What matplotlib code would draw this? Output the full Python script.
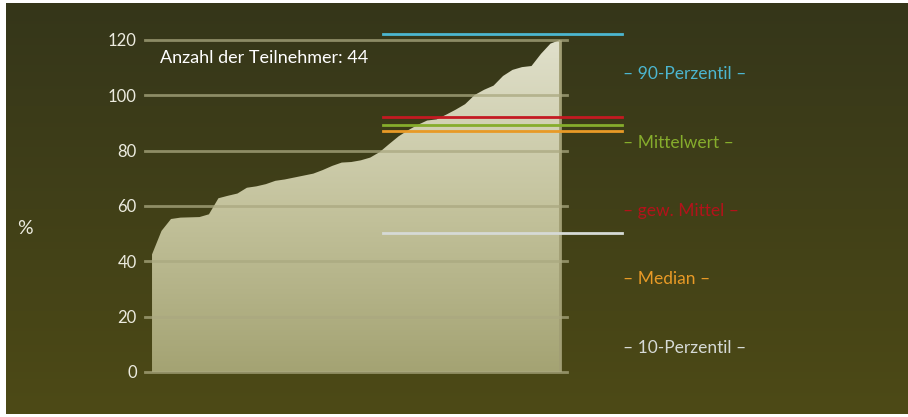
import numpy as np
import matplotlib
matplotlib.use("Agg")
import matplotlib.pyplot as plt
from matplotlib.colors import LinearSegmentedColormap

plt.rcParams['font.family'] = ['Lato', 'DejaVu Sans']

# sorted scores of the participants (percent)
scores = [42.5, 51, 55.3, 55.8, 55.9, 56, 57, 62.8, 63.7, 64.5, 66.6, 67.1, 67.9, 69.1,
          69.6, 70.3, 71, 71.7, 73, 74.5, 75.7, 75.9, 76.5, 77.5, 79.5, 82.4, 85.2, 87.4,
          89.3, 90.9, 91.3, 93, 94.8, 96.8, 100.1, 102, 103.5, 107, 109.2, 110.2, 110.6,
          115, 118.7, 120]
n_participants = 44

# statistics lines
stat_names = ['90-Perzentil', 'Mittelwert', 'gew. Mittel', 'Median', '10-Perzentil']
stat_values = [122.2, 89.3, 92.2, 87.1, 50.2]
stat_colors = ['#4cb6d0', '#86ad2c', '#c41a22', '#e89a26', '#d6dad6']
label_colors = ['#4cb6d0', '#86ad2c', '#b3121a', '#e89a26', '#d6dad6']

yticks = [0, 20, 40, 60, 80, 100, 120]

fig = plt.figure(figsize=(9.08, 4.17), dpi=100)
fig.patch.set_facecolor('white')

# background gradient panel
bg = fig.add_axes([0, 0, 1, 1], zorder=0)
bg_cmap = LinearSegmentedColormap.from_list('bg', ['#4d4a16', '#35361a'])
grad = np.linspace(0, 1, 256).reshape(-1, 1)
bg.imshow(grad, cmap=bg_cmap, aspect='auto', origin='lower',
          extent=[6, 908, 3, 414])
bg.set_xlim(0, 908)
bg.set_ylim(0, 417)
bg.axis('off')

ax = fig.add_axes([145 / 908, 45 / 417, 422 / 908, 332 / 417], zorder=1)
ax.patch.set_alpha(0)
x = np.arange(len(scores))

# area with vertical gradient
poly = ax.fill_between(x, 0, scores, color='none', lw=0)
area_cmap = LinearSegmentedColormap.from_list('area', ['#a4a373', '#c4c39d', '#e0e0cb'])
img = ax.imshow(grad, cmap=area_cmap, aspect='auto', origin='lower',
                extent=[0, len(scores) - 1, 0, 120], zorder=1)
img.set_clip_path(poly.get_paths()[0], transform=ax.transData)
ax.set_xlim(-0.74, len(scores) - 1 + 0.74)
ax.set_ylim(0, 120)
ax.vlines(len(scores) - 1, 0, scores[-1], color='#a19e74', lw=2, zorder=2)

# grid lines
for t in yticks:
    ax.axhline(t, color='#aaa880', alpha=0.75, lw=2, zorder=3, clip_on=False)

# statistics lines
for val, col in zip(stat_values, stat_colors):
    ax.axhline(val, xmin=0.564, xmax=1.13, color=col, lw=2, zorder=4, clip_on=False)

ax.set_yticks(yticks)
ax.set_yticklabels([str(t) for t in yticks])
ax.tick_params(axis='y', length=0, pad=6, labelsize=12, labelcolor='#ecebdf')
ax.set_xticks([])
for s in ax.spines.values():
    s.set_visible(False)

ax.text(0.035, 0.945, 'Anzahl der Teilnehmer: %d' % n_participants, transform=ax.transAxes,
        color='white', fontsize=13, va='center', ha='left')

fig.text(17 / 908, 1 - 228 / 417, '%', color='#ecebdf', fontsize=14, va='center', ha='left')

label_y = [74, 143, 211, 279, 348]
for name, col, yy in zip(stat_names, label_colors, label_y):
    fig.text(623 / 908, 1 - yy / 417, '\u2013 ' + name + ' \u2013', color=col,
             fontsize=12.5, va='center', ha='left')

fig.savefig('out.png', dpi=100)
